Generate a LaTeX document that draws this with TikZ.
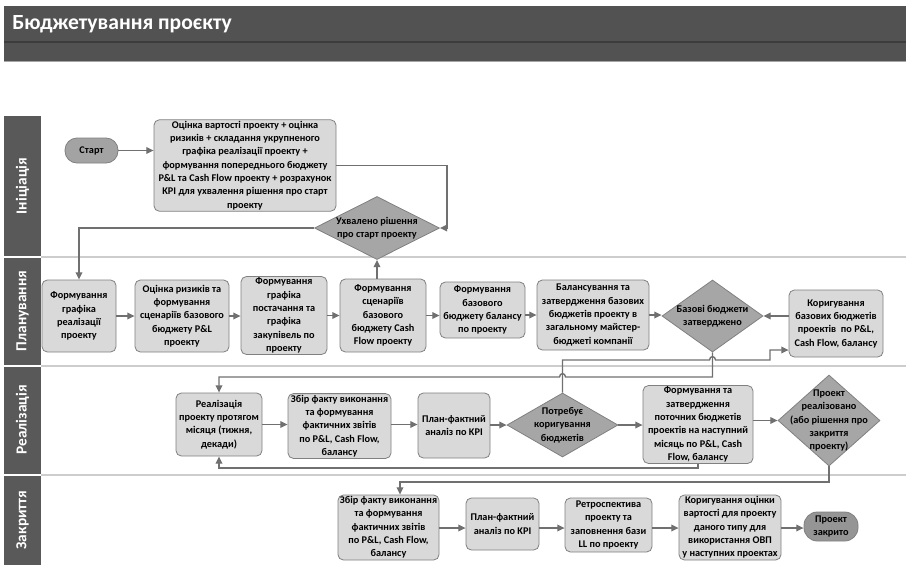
\documentclass[tikz,border=0pt]{standalone}
\usepackage{fontspec}
\setmainfont{Carlito}
\usetikzlibrary{shapes.geometric,arrows.meta,calc}
\definecolor{hdr}{HTML}{525252}
\definecolor{hdrline}{HTML}{3C3C3C}
\definecolor{lanecol}{HTML}{595959}
\definecolor{boxfill}{HTML}{D9D9D9}
\definecolor{boxdraw}{HTML}{808080}
\definecolor{diafill}{HTML}{A6A6A6}
\definecolor{termfill}{HTML}{A3A3A3}
\definecolor{conncol}{HTML}{707070}
\definecolor{sepcol}{HTML}{CDCDCD}
\newcommand\boxfont{\fontsize{7.7}{10}\selectfont\bfseries}
\tikzset{
  box/.style={draw=boxdraw, fill=boxfill, rounded corners=4pt, line width=0.6pt,
    align=center, font=\boxfont, inner sep=1pt},
  wh/.style 2 args={minimum width=#1*0.75pt, minimum height=#2*0.75pt},
  dia/.style={diamond, draw=boxdraw, fill=diafill, line width=0.6pt, inner sep=0pt},
  dtext/.style={align=center, font=\boxfont, inner sep=0pt},
  term/.style={draw=boxdraw, fill=termfill, line width=0.6pt, align=center,
    font=\boxfont, inner sep=1pt},
  arr/.style={draw=conncol, line width=1pt, -{Triangle[length=5.5pt,width=5pt]}},
  lanetext/.style={rotate=90, text=white, font=\fontsize{11.5}{13}\selectfont\bfseries},
}
\begin{document}
\begin{tikzpicture}[x=0.75pt,y=-0.75pt]
\useasboundingbox (0,0) rectangle (906,565);
% title bar
\fill[hdr] (4,6) rectangle (906,61);
\draw[hdrline, line width=1pt] (4,42) -- (906,42);
\draw[gray!70, line width=0.6pt] (4,61) -- (906,61);
\node[anchor=west, text=white, font=\fontsize{16.2}{18}\selectfont\bfseries, inner sep=0pt]
  (title) at (12,24) {Бюджетування проєкту};
% lanes
\fill[lanecol] (4,116) rectangle (41,256);
\fill[lanecol] (4,258) rectangle (41,365);
\fill[lanecol] (4,367) rectangle (41,474);
\fill[lanecol] (4,476) rectangle (41,565);
\draw[sepcol, line width=1.2pt] (41,257) -- (906,257);
\draw[sepcol, line width=1.2pt] (41,366) -- (906,366);
\draw[sepcol, line width=1.2pt] (41,475) -- (906,475);
\node[lanetext] (l1) at (22.5,186) {Ініціація};
\node[lanetext] (l2) at (22.5,311) {Планування};
\node[lanetext] (l3) at (22.5,420) {Реалізація};
\node[lanetext] (l4) at (22.5,520) {Закриття};

% Initiation
\node[term, wh={53}{25}, rounded corners=9pt] (start) at (91.5,150.5) {Старт};
\node[box, wh={182}{91}] (b1) at (245,165.5) {Оцінка вартості проекту + оцінка\\ризиків + складання укрупненого\\графіка реалізації проекту +\\формування попереднього бюджету\\P\&L та Cash Flow проекту + розрахунок\\KPI для ухвалення рішення про старт\\проекту};
\node[dia, wh={125}{63}, label={[dtext]center:Ухвалено рішення\\про старт проекту}] (d1) at (377,228) {};

% Planning
\node[box, wh={74}{72}] (p1) at (79,316) {Формування\\графіка\\реалізації\\проекту};
\node[box, wh={94}{72}] (p2) at (182,316) {Оцінка ризиків та\\формування\\сценаріїв базового\\бюджету P\&L\\проекту};
\node[box, wh={86}{73}] (p3) at (284,315.5) {Формування\\графіка\\постачання та\\графіка\\закупівель по\\проекту};
\node[box, wh={86}{73}] (p4) at (383,315.5) {Формування\\сценаріїв\\базового\\бюджету Cash\\Flow проекту};
\node[box, wh={85}{56}] (p5) at (482.5,310) {Формування\\базового\\бюджету балансу\\по проекту};
\node[box, wh={112}{70}] (p6) at (593,315) {Балансування та\\затвердження базових\\бюджетів проекту в\\загальному майстер-\\бюджеті компанії};
\node[dia, wh={101}{72}, label={[dtext]center:Базові бюджети\\затверджено}] (d2) at (712.5,316) {};
\node[box, wh={94}{67}] (p7) at (836,323.5) {Коригування\\базових бюджетів\\проектів\ \ по P\&L,\\Cash Flow, балансу};

% Realization
\node[box, wh={86}{63}] (r1) at (219,424.5) {Реалізація\\проекту протягом\\місяця (тижня,\\декади)};
\node[box, wh={103}{62}] (r2) at (339.5,426) {Збір факту виконання\\та формування\\фактичних звітів\\по P\&L, Cash Flow,\\балансу};
\node[box, wh={72}{65}] (r3) at (454,425.5) {План-фактний\\аналіз по KPI};
\node[dia, wh={111}{64}, label={[dtext]center:Потребує\\коригування\\бюджетів}] (d3) at (562.5,425) {};
\node[box, wh={110}{71}] (r4) at (698,424.5) {Формування та\\затвердження\\поточних бюджетів\\проектів на наступний\\місяць по P\&L, Cash\\Flow, балансу};
\node[dia, wh={102}{91}, label={[dtext]center:Проект\\реалізовано\\(або рішення про\\закриття\\проекту)}] (d4) at (829,420.5) {};

% Closure
\node[box, wh={101}{65}] (c1) at (388.5,527.5) {Збір факту виконання\\та формування\\фактичних звітів\\по P\&L, Cash Flow,\\балансу};
\node[box, wh={73}{52}] (c2) at (502.5,524) {План-фактний\\аналіз по KPI};
\node[box, wh={87}{54}] (c3) at (608.5,525) {Ретроспектива\\проекту та\\заповнення бази\\LL по проекту};
\node[box, wh={102}{65}] (c4) at (730,527.5) {Коригування оцінки\\вартості для проекту\\даного типу для\\використання ОВП\\у наступних проектах};
\node[term, wh={54}{29}, rounded corners=10pt, fill=diafill!90!black] (fin) at (831,526.5) {Проект\\закрито};

% connectors - initiation
\draw[arr] (start.east) -- (start.east -| b1.west);
\coordinate (k1) at (447,228);
\draw[arr] (b1.east) -| (k1) -- (d1.east);
\draw[arr] (d1.west) -| (p1.north);
\draw[arr] (p4.north -| d1.south) -- (d1.south);
% planning
\draw[arr] (p1.east) -- (p1.east -| p2.west);
\draw[arr] (p2.east) -- (p2.east -| p3.west);
\draw[arr] (p3.east) -- (p3.east -| p4.west);
\draw[arr] (p4.east) -- (p4.east -| p5.west);
\draw[arr] (p5.east |- p6.west) -- (p6.west);
\draw[arr] (p6.east) -- (p6.east -| d2.west);
\draw[arr] (p7.west |- d2.east) -- (d2.east);
% approved -> realization
\draw[arr] (d2.south) |- (565.5,377) .. controls (565.5,372.5) and (559.5,372.5) .. (559.5,377) -| (r1.north);
% needs correction -> correction
\coordinate (k8) at (770,350);
\draw[arr] (d3.north) |- (709.5,360) .. controls (709.5,355.5) and (715.5,355.5) .. (715.5,360) -| (k8) -- (k8 -| p7.west);
% realization
\draw[arr] (r1.east) -- (r1.east -| r2.west);
\draw[arr] (r2.east |- r1.east) -- (r1.east -| r3.west);
\draw[arr] (r3.east |- d3.west) -- (d3.west);
\draw[arr] (d3.east) -- (d3.east -| r4.west);
\draw[arr] (r4.east |- d4.west) -- (d4.west);
\draw[arr] (r4.south) |- (r1.south |- 0,468) -- (r1.south);
% to closure
\draw[arr] (d4.south) |- (400,482) -- (c1.north -| 400,0);
\draw[arr] (c1.east |- 0,528) -- (c2.west |- 0,528);
\draw[arr] (c2.east |- 0,528) -- (c3.west |- 0,528);
\draw[arr] (c3.east |- 0,528) -- (c4.west |- 0,528);
\draw[arr] (c4.east |- 0,528) -- (fin.west |- 0,528);
\end{tikzpicture}
\end{document}
